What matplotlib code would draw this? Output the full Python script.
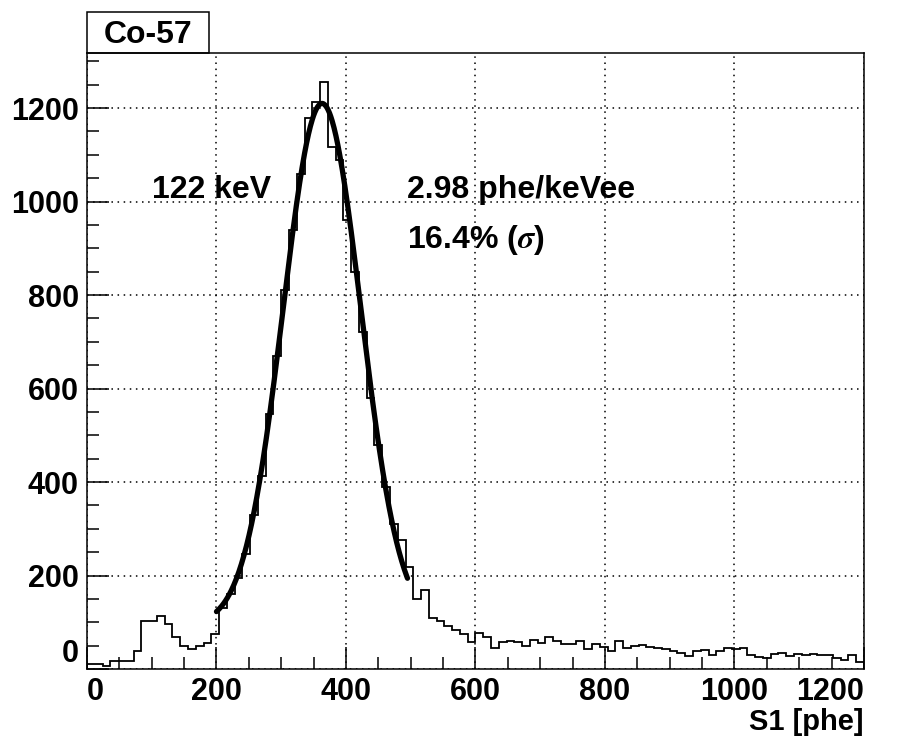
import numpy as np
import matplotlib
matplotlib.use("Agg")
import matplotlib.pyplot as plt
from matplotlib.patches import Rectangle

# S1 spectrum, 100 bins of 12 phe from 0 to 1200
bin_edges = np.arange(0, 1201, 12)
counts = [
    11, 11, 6, 18, 18, 18, 39, 103, 103, 114,
    97, 68, 50, 43, 50, 55, 74, 130, 160, 195,
    245, 330, 412, 545, 670, 810, 940, 1060, 1179, 1213,
    1255, 1117, 1090, 961, 850, 722, 580, 480, 390, 311,
    275, 219, 150, 169, 110, 103, 91, 84, 74, 57,
    78, 69, 46, 57, 61, 57, 50, 62, 55, 69,
    59, 54, 54, 59, 42, 53, 48, 39, 59, 46,
    49, 51, 47, 46, 42, 38, 35, 28, 39, 40,
    31, 38, 44, 42, 45, 30, 26, 24, 33, 35,
    28, 32, 30, 33, 30, 29, 23, 20, 31, 15,
]

# gaussian + flat background fit over 200-495 phe
fit_range = (200, 495)
fit_amp = 1115
fit_mean = 363
fit_sigma = 60
fit_bkg = 95

plt.rcParams["font.family"] = ["Liberation Sans", "DejaVu Sans"]
plt.rcParams["font.weight"] = "bold"
plt.rcParams["mathtext.fontset"] = "stix"

fig = plt.figure(figsize=(9.06, 7.47), dpi=100)
ax = fig.add_axes([0.096, 0.1044, 0.8576, 0.8247])

ax.stairs(counts, bin_edges, color="black", linewidth=1.3)

xf = np.linspace(fit_range[0], fit_range[1], 300)
yf = fit_amp * np.exp(-(xf - fit_mean) ** 2 / (2 * fit_sigma ** 2)) + fit_bkg
ax.plot(xf, yf, color="black", linewidth=3.8, solid_capstyle="round")

ax.set_xlim(0, 1200)
ax.set_ylim(0, 1318)
ax.set_xticks(np.arange(0, 1201, 200))
ax.set_xticks(np.arange(0, 1201, 50), minor=True)
ax.set_yticks(np.arange(0, 1201, 200))
ax.set_yticks(np.arange(0, 1301, 50), minor=True)
ax.grid(True, which="major", color="black", linestyle=(0, (1, 3)), linewidth=1.1)

ax.tick_params(which="both", direction="in", top=False, right=False,
               labelsize=22, width=1.1)
ax.tick_params(which="major", length=16, pad=6)
ax.tick_params(which="minor", length=8.5)
for s in ax.spines.values():
    s.set_linewidth(1.1)

# keep the end labels inside the frame, like ROOT does
xlabels = ax.get_xticklabels()
xlabels[0].set_horizontalalignment("left")
xlabels[-1].set_horizontalalignment("right")
ax.get_yticklabels()[0].set_verticalalignment("bottom")

ax.text(1200, -0.086, "S1 [phe]", transform=ax.get_xaxis_transform(),
        ha="right", va="center", fontsize=21)

# labels on the plot
ax.text(100, 1025, "122 keV", fontsize=23, ha="left", va="center")
ax.text(495, 1025, "2.98 phe/keVee", fontsize=23, ha="left", va="center")
ax.text(495, 918, "16.4% ($\\sigma$)", fontsize=23, ha="left", va="center")

# title box
x0, x1 = 87 / 906, 209 / 906
y0, y1 = 1 - 53 / 747, 1 - 12 / 747
fig.patches.append(Rectangle((x0, y0), x1 - x0, y1 - y0, transform=fig.transFigure,
                             fill=False, edgecolor="black", linewidth=1.1))
fig.text((x0 + x1) / 2, (y0 + y1) / 2 - 0.003, "Co-57", ha="center", va="center",
         fontsize=23)

fig.savefig("out.png", dpi=100)
